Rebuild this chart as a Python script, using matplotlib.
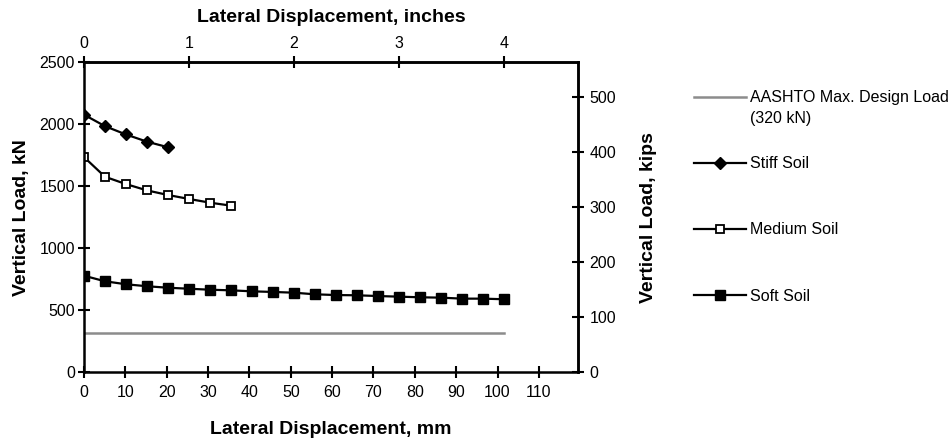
import matplotlib.pyplot as plt
import numpy as np

plt.rcParams['font.family'] = ['Liberation Sans', 'DejaVu Sans']

# Deslocamento lateral (mm) e carga vertical (kN) de cada solo
desl_rigido = [0, 5.08, 10.16, 15.24, 20.32]
carga_rigido = [2078, 1985, 1918, 1860, 1815]

desl_medio = [0, 5.08, 10.16, 15.24, 20.32, 25.4, 30.48, 35.56]
carga_medio = [1736, 1577, 1518, 1467, 1430, 1398, 1368, 1344]

desl_mole = [0, 5.08, 10.16, 15.24, 20.32, 25.4, 30.48, 35.56, 40.64, 45.72,
             50.8, 55.88, 60.96, 66.04, 71.12, 76.2, 81.28, 86.36, 91.44,
             96.52, 101.6]
carga_mole = [779, 734, 710, 694, 682, 674, 666, 661, 653, 648,
              642, 629, 623, 621, 615, 610, 605, 602, 594, 594, 589]

# Carga máxima de projeto AASHTO
desl_aashto = [0, 101.6]
carga_aashto = [320, 320]

KN_POR_KIP = 4.448
MM_POR_POL = 25.4

TAM_TICK = 11.5
TAM_ROTULO = 14

fig = plt.figure(figsize=(9.53, 4.42), dpi=100)
ax = fig.add_axes([0.0881, 0.1577, 0.5181, 0.7013])

l_aashto, = ax.plot(desl_aashto, carga_aashto, color='#8c8c8c', lw=1.8)
l_rigido, = ax.plot(desl_rigido, carga_rigido, color='black', lw=1.6,
                    marker='D', ms=6, mfc='black')
l_medio, = ax.plot(desl_medio, carga_medio, color='black', lw=1.6,
                   marker='s', ms=5.5, mfc='white', mew=1.3)
l_mole, = ax.plot(desl_mole, carga_mole, color='black', lw=1.6,
                  marker='s', ms=6.5, mfc='black')

ax.set_xlim(0, 4.7 * MM_POR_POL)
ax.set_ylim(0, 2500)
ax.set_xticks(np.arange(0, 111, 10))
ax.set_yticks(np.arange(0, 2501, 500))

for lado in ['left', 'bottom', 'top', 'right']:
    ax.spines[lado].set_linewidth(1.8)
ax.tick_params(direction='inout', length=9, width=1.5, labelsize=TAM_TICK, pad=2)
ax.tick_params(axis='x', pad=5)

ax.set_xlabel('Lateral Displacement, mm', fontsize=TAM_ROTULO, fontweight='bold',
              labelpad=15)
ax.set_ylabel('Vertical Load, kN', fontsize=TAM_ROTULO, fontweight='bold', labelpad=7)

# Eixos secundários: polegadas em cima, kips à direita
ax_top = ax.secondary_xaxis('top', functions=(lambda x: x / MM_POR_POL,
                                              lambda x: x * MM_POR_POL))
ax_top.set_xticks([0, 1, 2, 3, 4])
ax_top.tick_params(direction='inout', length=9, width=1.5, labelsize=TAM_TICK, pad=4)
ax_top.spines['top'].set_linewidth(1.8)
ax_top.set_xlabel('Lateral Displacement, inches', fontsize=TAM_ROTULO,
                  fontweight='bold', labelpad=10)

ax_dir = ax.secondary_yaxis('right', functions=(lambda y: y / KN_POR_KIP,
                                                lambda y: y * KN_POR_KIP))
ax_dir.set_yticks(np.arange(0, 501, 100))
ax_dir.tick_params(direction='inout', length=9, width=1.5, labelsize=TAM_TICK, pad=4)
ax_dir.spines['right'].set_linewidth(1.8)
ax_dir.set_ylabel('Vertical Load, kips', fontsize=TAM_ROTULO, fontweight='bold',
                  labelpad=17)

# Legenda à direita do gráfico
leg = fig.legend([l_aashto, l_rigido, l_medio, l_mole],
                 ['AASHTO Max. Design Load', 'Stiff Soil', 'Medium Soil', 'Soft Soil'],
                 loc='upper left', bbox_to_anchor=(0.728, 0.796), frameon=False,
                 fontsize=11.5, handlelength=3.3, handletextpad=0.2,
                 labelspacing=3.2, borderpad=0, borderaxespad=0)
fig.text(0.787, 0.733, '(320 kN)', fontsize=11.5, va='center', ha='left')

fig.savefig('out.png', dpi=100)
